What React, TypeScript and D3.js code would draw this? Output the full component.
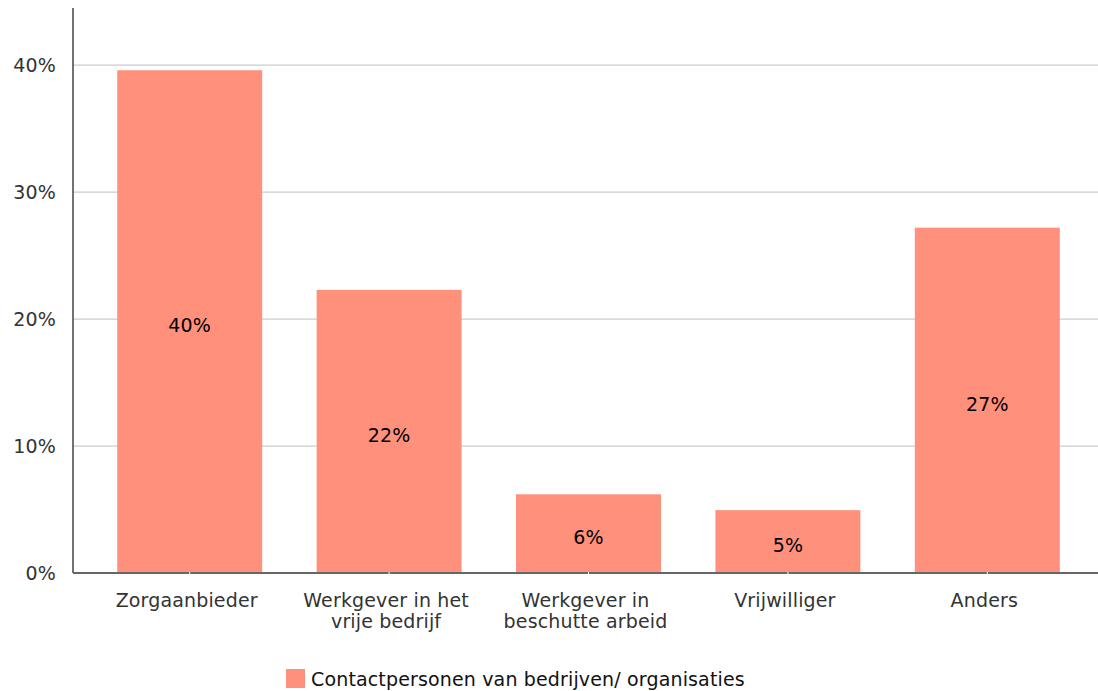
import React from "react";
import * as d3 from "d3";

const categories: string[][] = [
  ["Zorgaanbieder"],
  ["Werkgever in het", "vrije bedrijf"],
  ["Werkgever in", "beschutte arbeid"],
  ["Vrijwilliger"],
  ["Anders"],
];
const values: number[] = [39.6, 22.3, 6.2, 4.95, 27.2];
const valueLabels: string[] = ["40%", "22%", "6%", "5%", "27%"];
const yTicks: number[] = [0, 10, 20, 30, 40];
const seriesName = "Contactpersonen van bedrijven/ organisaties";

const W = 1098;
const H = 691;
const FONT = "'DejaVu Sans', Verdana, sans-serif";
const COLOR = "#ff917c";
const FS = 19;

export default function App() {
  const left = 73;
  const right = 1098;
  const top = 8;
  const bottom = 573;
  const y = d3.scaleLinear().domain([0, 44.5]).range([bottom, top]);
  const x = d3
    .scaleBand<number>()
    .domain(categories.map((_, i) => i))
    .range([90, 1087])
    .paddingInner(0.273)
    .paddingOuter(0.1365);
  return (
    <svg
      width={W}
      height={H}
      style={{ position: "absolute", left: 0, top: 0, fontFamily: FONT, letterSpacing: "0.15px" }}
    >
      <rect width={W} height={H} fill="#fff" />
      {yTicks.map((t) => (
        <g key={t}>
          {t > 0 && (
            <line x1={left} x2={right} y1={y(t)} y2={y(t)} stroke="#cccccc" strokeWidth={1.3} />
          )}
          <text
            x={56}
            y={y(t)}
            dy="0.35em"
            textAnchor="end"
            fontSize={FS}
            fill="#333"
          >
            {t}%
          </text>
        </g>
      ))}
      {values.map((v, i) => (
        <rect
          key={i}
          x={x(i)}
          y={y(v)}
          width={x.bandwidth()}
          height={y(0) - y(v)}
          fill={COLOR}
        />
      ))}
      <line x1={left} x2={left} y1={top} y2={bottom} stroke="#444" strokeWidth={1.5} />
      <line x1={left} x2={right} y1={bottom} y2={bottom} stroke="#666" strokeWidth={2} />
      {values.map((v, i) => {
        const cx = (x(i) as number) + x.bandwidth() / 2;
        return (
          <g key={i}>
            <line x1={cx} x2={cx} y1={bottom - 1} y2={bottom + 3} stroke="#fff" strokeWidth={1} />
            <text
              x={cx}
              y={(y(v) + y(0)) / 2}
              dy="0.55em"
              textAnchor="middle"
              fontSize={FS}
              fill="#000"
            >
              {valueLabels[i]}
            </text>
            {categories[i].map((line, j) => (
              <text
                key={j}
                x={cx - 3}
                y={607 + j * 21}
                textAnchor="middle"
                fontSize={FS}
                fill="#333"
              >
                {line}
              </text>
            ))}
          </g>
        );
      })}
      <rect x={286} y={669} width={19} height={19} fill={COLOR} />
      <text x={311} y={686} fontSize={FS} fill="#111">
        {seriesName}
      </text>
    </svg>
  );
}
